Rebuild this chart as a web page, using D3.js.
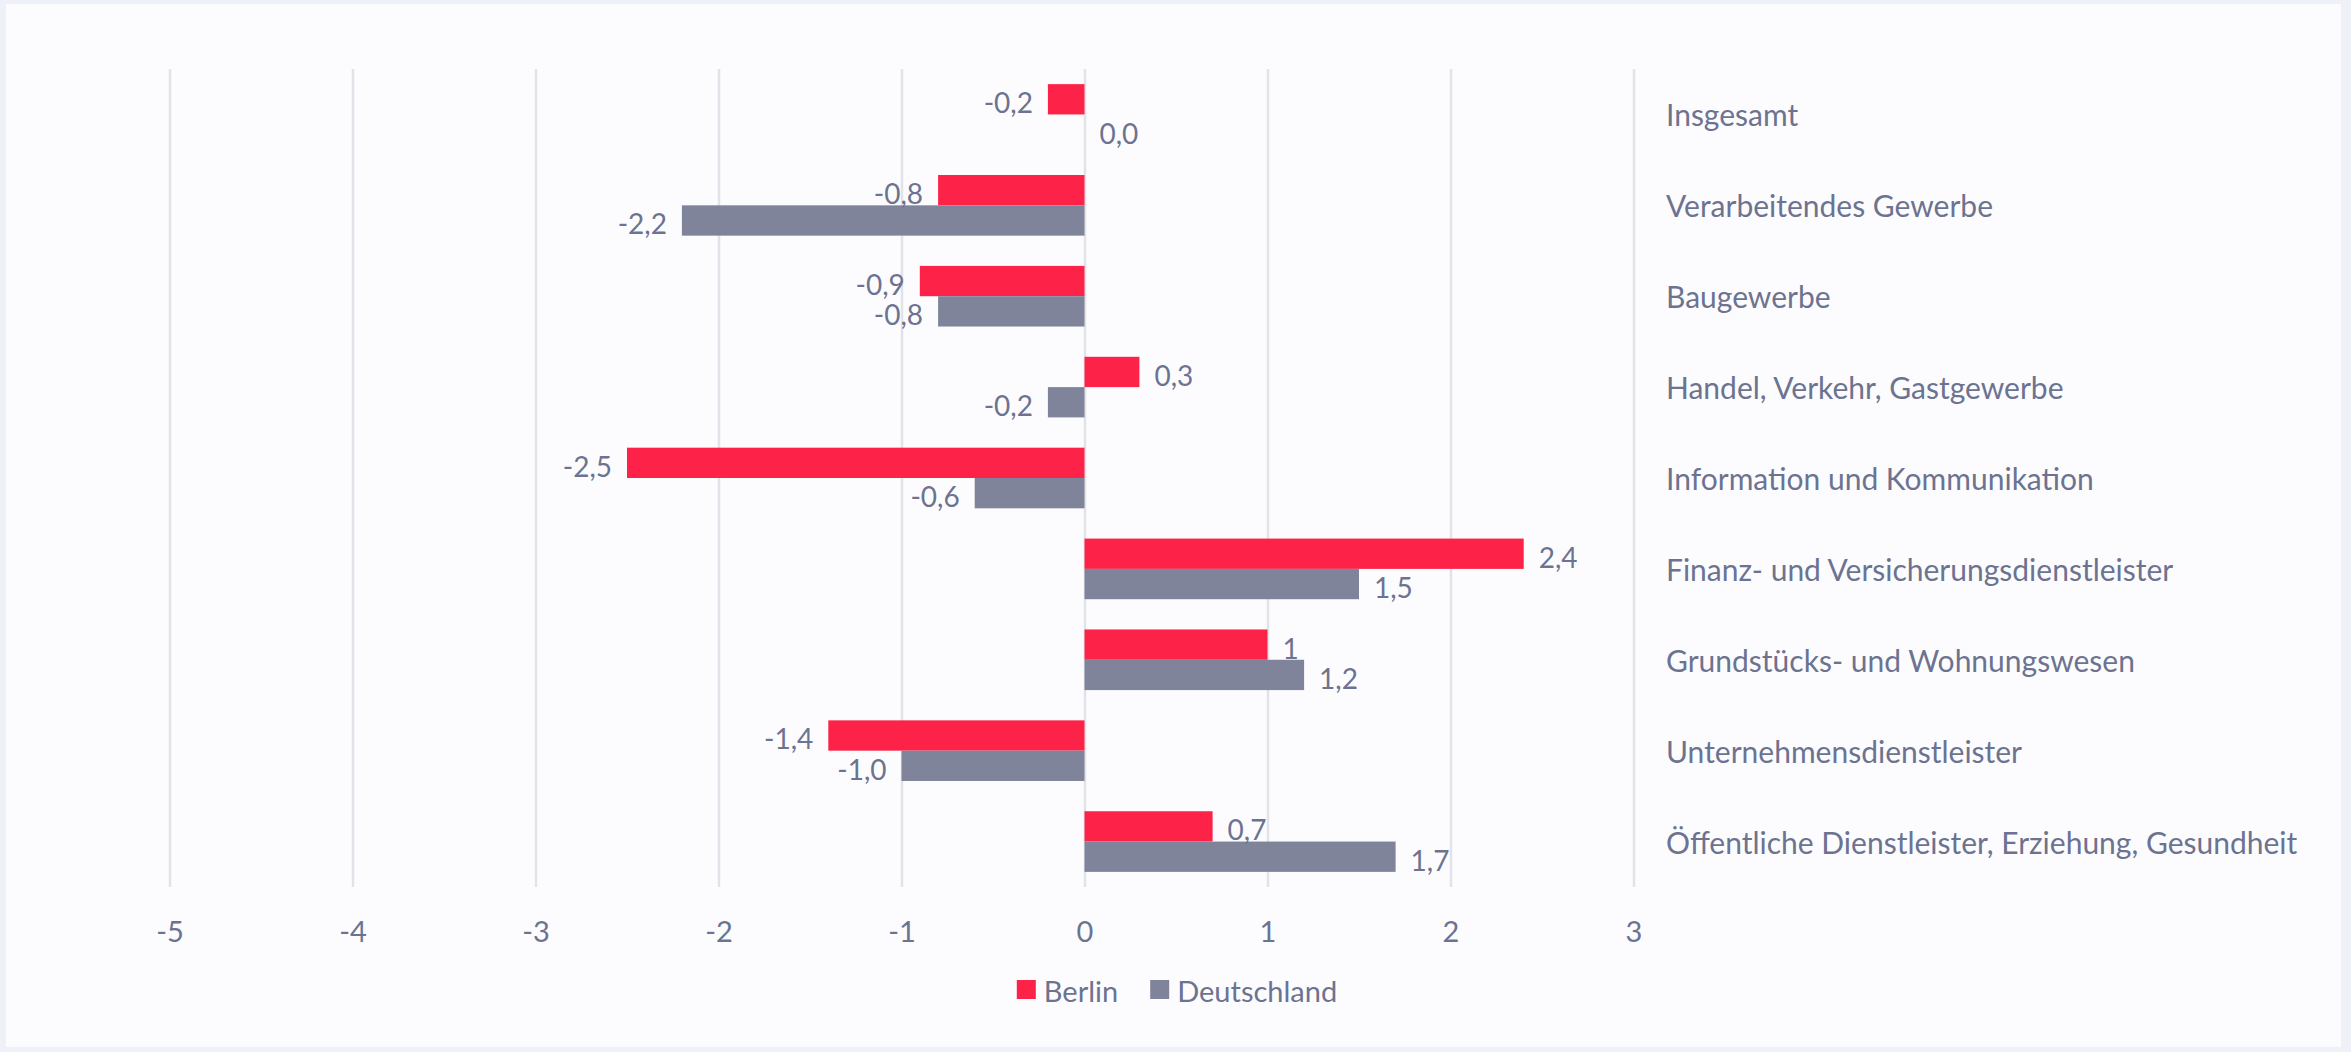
<!DOCTYPE html>
<html>
<head>
<meta charset="utf-8">
<script src="https://cdn.jsdelivr.net/npm/d3@7"></script>
<style>
  html, body { margin: 0; padding: 0; background: #eef1f8; }
  svg { display: block; }
  text { font-family: Lato, "Open Sans", sans-serif; }
</style>
</head>
<body>
<svg id="chart" width="2351" height="1052"></svg>
<script>
const categories = [
  "Insgesamt",
  "Verarbeitendes Gewerbe",
  "Baugewerbe",
  "Handel, Verkehr, Gastgewerbe",
  "Information und Kommunikation",
  "Finanz- und Versicherungsdienstleister",
  "Grundstücks- und Wohnungswesen",
  "Unternehmensdienstleister",
  "Öffentliche Dienstleister, Erziehung, Gesundheit"
];
const seriesNames = ["Berlin", "Deutschland"];
const berlinValues = [-0.2, -0.8, -0.9, 0.3, -2.5, 2.4, 1.0, -1.4, 0.7];
const deutschlandValues = [0.0, -2.2, -0.8, -0.2, -0.6, 1.5, 1.2, -1.0, 1.7];
const berlinLabels = ["-0,2", "-0,8", "-0,9", "0,3", "-2,5", "2,4", "1", "-1,4", "0,7"];
const deutschlandLabels = ["0,0", "-2,2", "-0,8", "-0,2", "-0,6", "1,5", "1,2", "-1,0", "1,7"];
const xTicks = [-5, -4, -3, -2, -1, 0, 1, 2, 3];
const xTickLabels = ["-5", "-4", "-3", "-2", "-1", "0", "1", "2", "3"];

const colors = { Berlin: "#fc2248", Deutschland: "#7f849a" };
const textColor = "#6c7391";
const gridColor = "#e2e3ea";
const fontSize = 28;

const svg = d3.select("#chart");
svg.append("rect").attr("x", 6).attr("y", 4).attr("width", 2335).attr("height", 1043).attr("fill", "#fcfcfe");

const x = d3.scaleLinear().domain([-5, 3]).range([169.5, 1633.5]);
const y0 = d3.scaleBand().domain(categories).range([69, 887]).paddingInner(0.333).paddingOuter(0.1665);
const y1 = d3.scaleBand().domain(seriesNames).range([0, y0.bandwidth()]);

// grid + tick labels
const gAxis = svg.append("g").attr("transform", "translate(0,887)")
  .call(d3.axisBottom(x).tickValues(xTicks).tickSize(-818)
    .tickFormat((d, i) => xTickLabels[i]).tickPadding(34));
gAxis.select(".domain").remove();
gAxis.selectAll(".tick line").attr("stroke", gridColor).attr("stroke-width", 2.5);
gAxis.selectAll(".tick text").attr("fill", textColor).attr("font-size", 29)
  .style("font-family", "Lato, sans-serif");

const rows = categories.map((c, i) => ({
  cat: c,
  vals: [
    { s: "Berlin", v: berlinValues[i], label: berlinLabels[i] },
    { s: "Deutschland", v: deutschlandValues[i], label: deutschlandLabels[i] }
  ]
}));

const gRow = svg.append("g").selectAll("g").data(rows).join("g")
  .attr("transform", d => `translate(0,${y0(d.cat)})`);

gRow.selectAll("rect").data(d => d.vals).join("rect")
  .attr("x", d => x(Math.min(0, d.v)))
  .attr("width", d => Math.abs(x(d.v) - x(0)))
  .attr("y", d => y1(d.s))
  .attr("height", y1.bandwidth())
  .attr("fill", d => colors[d.s]);

gRow.selectAll("text.val").data(d => d.vals).join("text")
  .attr("class", "val")
  .attr("x", d => d.v < 0 ? x(d.v) - 15 : x(d.v) + 15)
  .attr("y", d => y1(d.s) + y1.bandwidth() / 2 + 3)
  .attr("text-anchor", d => d.v < 0 ? "end" : "start")
  .attr("dominant-baseline", "central")
  .attr("fill", textColor)
  .attr("font-size", fontSize)
  .text(d => d.label);

// category labels
svg.append("g").selectAll("text").data(categories).join("text")
  .attr("x", 1666)
  .attr("y", d => y0(d) + y0.bandwidth() / 2)
  .attr("dominant-baseline", "central")
  .attr("fill", textColor)
  .attr("font-size", 30)
  .text(d => d);

// legend
const legend = svg.append("g");
const items = legend.selectAll("g").data(seriesNames).join("g");
items.append("rect").attr("width", 19).attr("height", 19).attr("y", -10).attr("fill", d => colors[d]);
items.append("text").attr("x", 27).attr("dominant-baseline", "central").attr("fill", textColor)
  .attr("font-size", 29).text(d => d);
let off = 0;
items.each(function() {
  const w = this.getBBox().width;
  d3.select(this).attr("transform", `translate(${off},0)`);
  off += w + 32;
});
const totalW = off - 32;
legend.attr("transform", `translate(${1177 - totalW / 2},990)`);
</script>
</body>
</html>
